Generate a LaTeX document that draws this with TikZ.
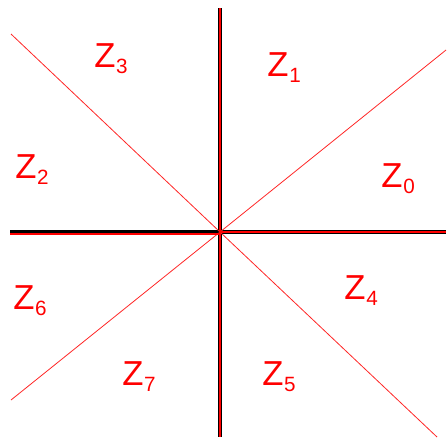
\documentclass[tikz,border=0pt]{standalone}
\usepackage{fontspec}
\setmainfont{Liberation Sans}
\usepackage{tikz}

\newcommand{\zlab}[1]{Z\kern0.6pt\raisebox{-4.5pt}{\fontsize{15.5}{18}\selectfont #1}}

\begin{document}
\begin{tikzpicture}[x=0.75pt,y=-0.75pt,
 axis/.style={black,line width=3pt},
 axismark/.style={red,line width=0.8pt},
 split/.style={red!85,line width=0.6pt},
 zone/.style={anchor=base west,inner sep=0pt,text=red,font=\fontsize{26}{30}\selectfont}
]
\useasboundingbox (0,0) rectangle (448,437);
\coordinate (O) at (220,232);
\coordinate (top) at (220,8);
\coordinate (bottom) at (220,437);
\coordinate (left) at (10,232);
\coordinate (right) at (446,232);
\coordinate (ul) at (11,34);
\coordinate (lr) at (437,437);
\coordinate (ll) at (11,400);
\coordinate (ur) at (446,50);
% axes
\draw[axis] (top) -- (bottom);
\draw[axis] (left) -- (right);
% sector borders
\draw[split] (ul) -- (O) -- (lr);
\draw[split] (ll) -- (O) -- (ur);
\draw[axismark] (top) -- (bottom);
\draw[axismark] ([yshift=-1.5]left) -- ([yshift=-1.5]O);
\draw[axismark] (O) -- (right);
% sector names
\node[zone] (z0) at (381,187) {\zlab{0}};
\node[zone] (z1) at (267,76) {\zlab{1}};
\node[zone] (z2) at (15,178) {\zlab{2}};
\node[zone] (z3) at (94,67) {\zlab{3}};
\node[zone] (z4) at (344,299) {\zlab{4}};
\node[zone] (z5) at (262,385) {\zlab{5}};
\node[zone] (z6) at (13,309) {\zlab{6}};
\node[zone] (z7) at (122,385) {\zlab{7}};
\end{tikzpicture}
\end{document}
